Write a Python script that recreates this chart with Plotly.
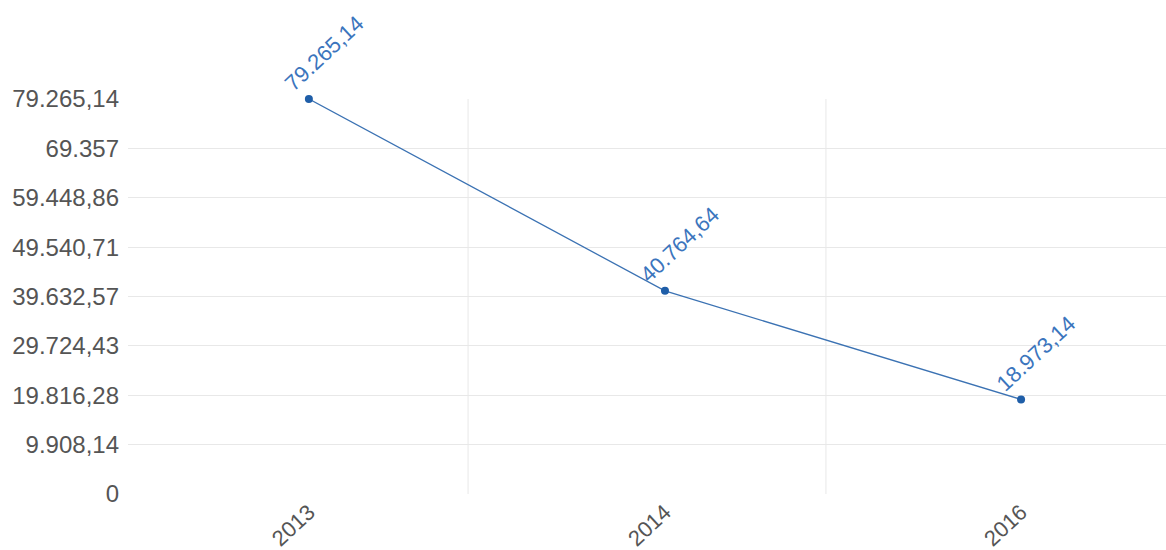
import plotly.graph_objects as go

# Values per year
years = ["2013", "2014", "2016"]
values = [79265.14, 40764.64, 18973.14]

# Y axis: eight equal steps up to the maximum
y_max = 79265.14
y_steps = 8
y_tick_labels = ["0", "9.908,14", "19.816,28", "29.724,43", "39.632,57",
                 "49.540,71", "59.448,86", "69.357", "79.265,14"]


def fmt_eu(v):
    s = f"{v:,.2f}"
    s = s.replace(",", "X").replace(".", ",").replace("X", ".")
    if s.endswith(",00"):
        s = s[:-3]
    return s


x_pos = list(range(len(years)))
y_tick_vals = [y_max * i / y_steps for i in range(y_steps + 1)]

LINE = "#3b72b3"
MARK = "#1f5ea8"
LABEL = "#3b75bd"
GRID = "#e8e8e8"
FONT = "Liberation Sans, Arial, sans-serif"

fig = go.Figure()
fig.add_trace(go.Scatter(
    x=x_pos, y=values, mode="lines+markers",
    line=dict(color=LINE, width=1.3),
    marker=dict(color=MARK, size=8),
    cliponaxis=False, hoverinfo="skip", showlegend=False,
))

# Rotated value labels above each point
for xi, v in zip(x_pos, values):
    fig.add_annotation(
        x=xi, y=v, text=fmt_eu(v), showarrow=False, textangle=-43,
        xanchor="center", yanchor="middle", xshift=15, yshift=46,
        font=dict(family=FONT, size=22, color=LABEL),
    )

# Vertical separators between categories
for gx in [0.447, 1.452]:
    fig.add_shape(type="line", xref="x", yref="paper", x0=gx, x1=gx, y0=0, y1=1,
                  line=dict(color=GRID, width=1), layer="below")

fig.update_layout(
    width=1166, height=550,
    margin=dict(l=128, r=0, t=99, b=56),
    plot_bgcolor="white", paper_bgcolor="white",
    font=dict(family=FONT, color="#555555"),
)
fig.update_xaxes(
    range=[-0.508, 2.407], tickvals=x_pos, ticktext=years, tickangle=-43,
    showgrid=False, zeroline=False, showline=False, ticks="",
    tickfont=dict(size=22, color="#555555", family=FONT),
)
fig.update_yaxes(
    range=[0, y_max], tickvals=y_tick_vals, ticktext=y_tick_labels,
    showgrid=True, gridcolor=GRID, gridwidth=1, zeroline=False, showline=False,
    ticks="", ticklabelstandoff=8,
    tickfont=dict(size=24, color="#555555", family=FONT),
)

fig.write_html("out.html")
